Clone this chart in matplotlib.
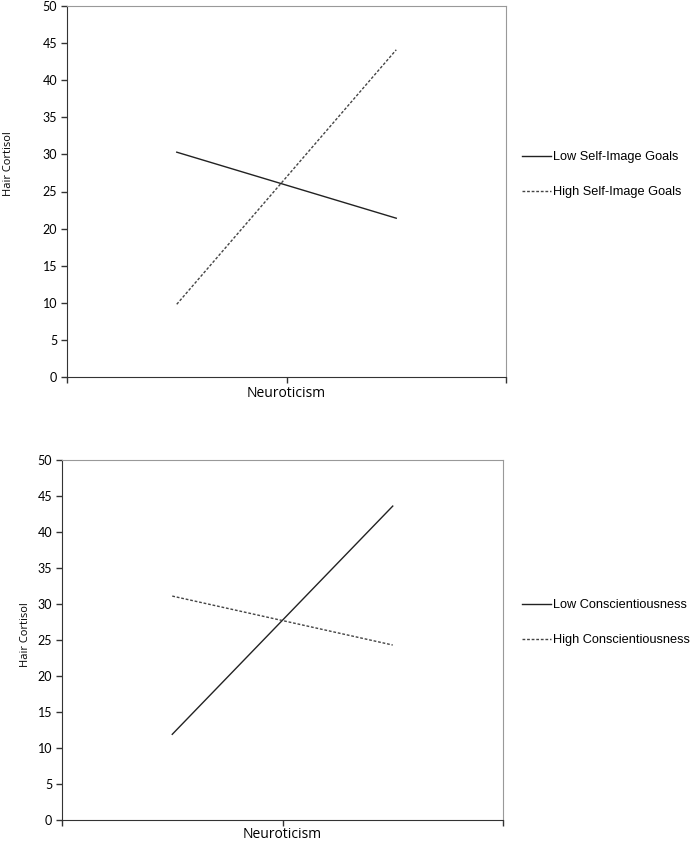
import matplotlib.pyplot as plt
import numpy as np

# data
x_levels = [-1, 1]
top_labels = ["Low Self-Image Goals", "High Self-Image Goals"]
top_low = [30.3, 21.4]
top_high = [9.8, 44.1]
bottom_labels = ["Low Conscientiousness", "High Conscientiousness"]
bottom_low = [11.9, 43.6]
bottom_high = [31.1, 24.3]
y_ticks = np.arange(0, 55, 5)

W, H = 694, 842
fig = plt.figure(figsize=(W / 100, H / 100), dpi=100)


def px_axes(left, top, right, bottom):
    return fig.add_axes([left / W, 1 - bottom / H, (right - left) / W, (bottom - top) / H])


def draw(ax, box, low, high, labels, ylab_px, xlab_y, leg_y):
    left, top, right, bottom = box
    aw, ah = right - left, bottom - top
    ax.plot(x_levels, low, color='#222222', lw=1.0, ls='-')
    ax.plot(x_levels, high, color='#444444', lw=1.0, ls=(0, (2, 1.3)))
    ax.set_xlim(-2, 2)
    ax.set_ylim(0, 50)
    ax.set_yticks(y_ticks)
    ax.set_xticks([-2, 0, 2])
    ax.set_xticklabels([])
    for lab in ax.get_yticklabels():
        lab.set_family('Lato')
        lab.set_fontsize(9)
    ax.tick_params(axis='both', direction='out', length=4, width=1, color='#333333', pad=3)
    ax.spines['left'].set_color('#333333')
    ax.spines['bottom'].set_color('#333333')
    ax.spines['top'].set_color('#999999')
    ax.spines['right'].set_color('#999999')
    ax.set_xlabel('Neuroticism', fontsize=10, family='Open Sans', va='center')
    ax.xaxis.set_label_coords(0.5, (bottom - xlab_y) / ah)
    ax.set_ylabel('Hair Cortisol', fontsize=8, family='Open Sans', va='center')
    ax.yaxis.set_label_coords((ylab_px[0] - left) / aw, (bottom - ylab_px[1]) / ah)
    ax.legend([ax.lines[0], ax.lines[1]], labels, loc='center left',
              bbox_to_anchor=((522 - left) / aw, (bottom - leg_y) / ah),
              frameon=False, handlelength=2.3, handletextpad=0.15,
              labelspacing=1.8, borderpad=0, borderaxespad=0,
              prop={'family': 'Liberation Sans', 'size': 9.2})


box1 = (67, 6, 506, 377)
ax1 = px_axes(*box1)
draw(ax1, box1, top_low, top_high, top_labels, (9, 164), 393, 174.5)
box2 = (62, 460, 503, 820)
ax2 = px_axes(*box2)
draw(ax2, box2, bottom_low, bottom_high, bottom_labels, (26, 635), 834, 623)

fig.savefig('out.png', dpi=100, facecolor='white')
